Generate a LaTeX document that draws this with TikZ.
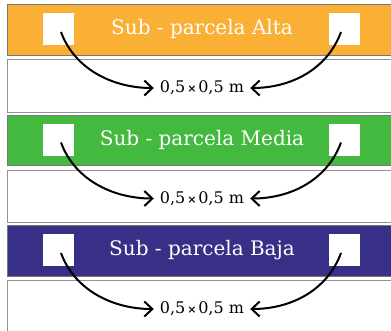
\documentclass[tikz,border=0pt]{standalone}
\usepackage{fontspec}
\setmainfont{DejaVu Serif}
\usepackage{tikz}
\usetikzlibrary{arrows.meta}

\definecolor{alta}{RGB}{249,176,52}
\definecolor{media}{RGB}{67,185,64}
\definecolor{baja}{RGB}{56,47,135}
\definecolor{borde}{RGB}{120,120,120}

\tikzset{
  franja/.style={draw=borde, line width=0.8pt},
  celda/.style={draw=borde!80, line width=0.8pt, fill=white},
  cuadro/.style={fill=white, minimum width=31pt, minimum height=32pt, inner sep=0pt},
  titulo/.style={text=white, font=\fontsize{20}{22}\selectfont},
  medida/.style={font=\fontsize{16}{18}\selectfont, inner sep=6pt},
  curva/.style={-{Straight Barb[length=8pt,width=15pt]}, line width=2pt}
}

\begin{document}
\begin{tikzpicture}[x=1pt,y=-1pt]
\useasboundingbox (0,0) rectangle (391,330);
\foreach \nom/\col/\y in {Alta/alta/0, Media/media/110.5, Baja/baja/221}{
  % franja de color y celda blanca
  \draw[franja, fill=\col] (7.5,\y+4.5) rectangle (398,\y+55);
  \draw[celda] (7.5,\y+59.5) rectangle (398,\y+112);
  %
  \node[cuadro] (izq\nom) at (58.5,\y+29) {};
  \node[cuadro] (der\nom) at (344,\y+29) {};
  \node[titulo] (tit\nom) at (202,\y+29) {Sub - parcela \nom};
  \node[medida] (med\nom) at (202,\y+88) {0,5{\fontsize{11}{11}\selectfont\bfseries\,×\,}0,5 m};
  %
  \draw[curva] ([shift={(2.5,3)}]izq\nom.center) .. controls +(14,38) and +(-40,0) .. (med\nom.west);
  \draw[curva] ([shift={(-3,3)}]der\nom.center) .. controls +(-14,38) and +(40,0) .. (med\nom.east);
}
\end{tikzpicture}
\end{document}
